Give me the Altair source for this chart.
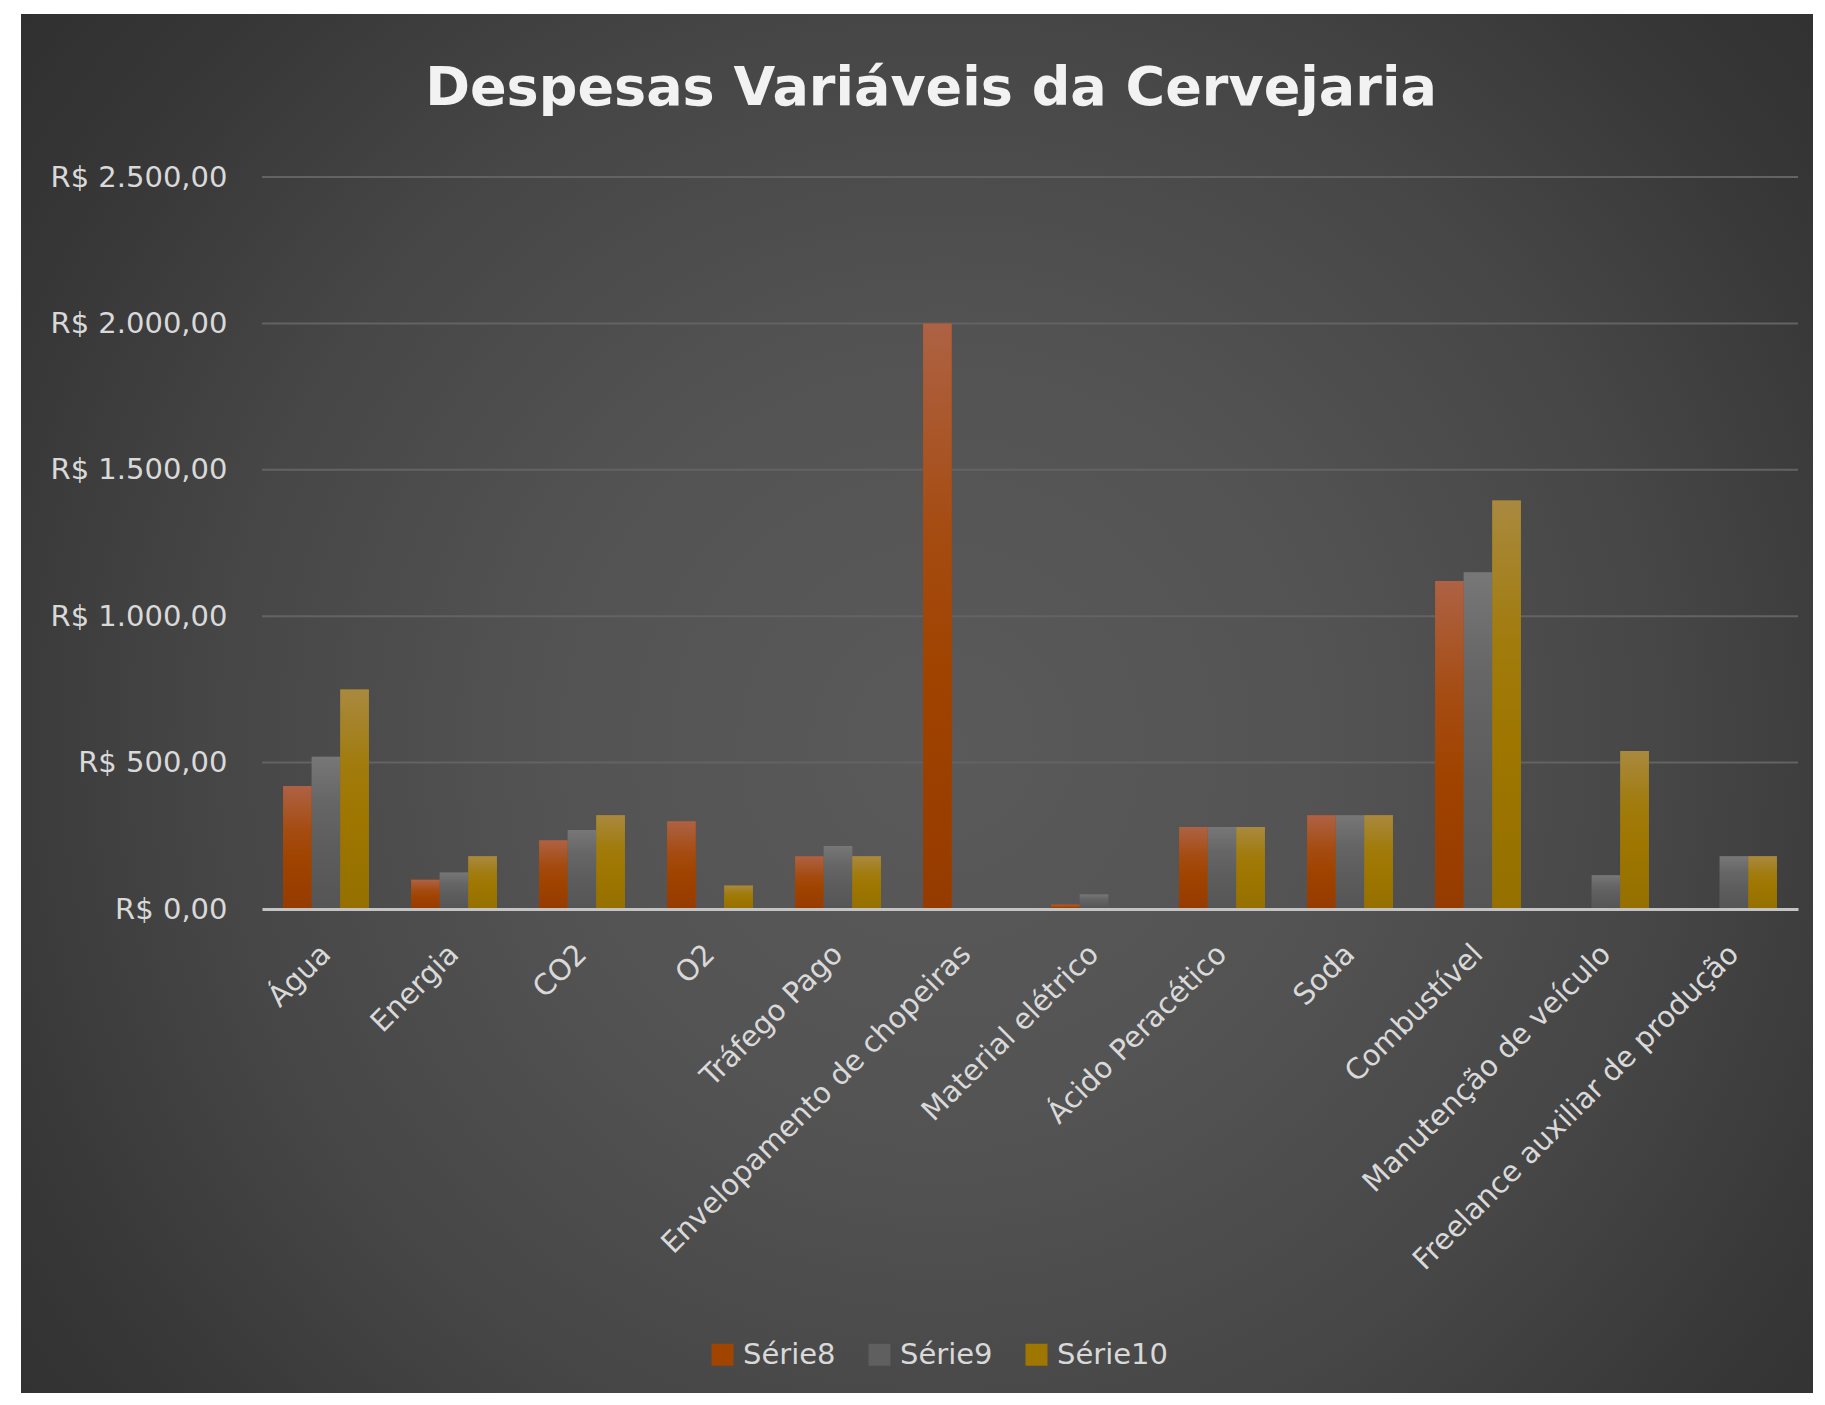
import altair as alt
import pandas as pd

categorias = ["Água", "Energia", "CO2", "O2", "Tráfego Pago",
              "Envelopamento de chopeiras", "Material elétrico",
              "Ácido Peracético", "Soda", "Combustível",
              "Manutenção de veículo", "Freelance auxiliar de produção"]
series = ["Série8", "Série9", "Série10"]
serie8 = [420, 100, 235, 300, 180, 2000, 15, 280, 320, 1120, 0, 0]
serie9 = [520, 125, 270, 0, 215, 0, 50, 280, 320, 1150, 115, 180]
serie10 = [750, 180, 320, 80, 180, 0, 0, 280, 320, 1395, 540, 180]
y_ticks = [500, 1000, 1500, 2000, 2500]

cores = ["#a14400", "#5f5f5f", "#9e7600"]
gradientes = [
    [("#ae6244", 0.0), ("#a54c12", 0.35), ("#a04300", 0.6), ("#963b00", 1.0)],
    [("#777777", 0.0), ("#666666", 0.3), ("#5d5d5d", 0.6), ("#555555", 1.0)],
    [("#a9893f", 0.0), ("#a17b0c", 0.35), ("#9e7600", 0.6), ("#957000", 1.0)],
]

rows = []
for s, vals in zip(series, [serie8, serie9, serie10]):
    for c, v in zip(categorias, vals):
        rows.append({"categoria": c, "serie": s, "valor": v})
df = pd.DataFrame(rows)

W, H = 1536, 732
FONT = "DejaVu Sans"
LBL = "#d9d9d9"
FS = 29

x_axis = alt.Axis(labelAngle=-45, labelAlign="right", labelBaseline="middle",
                  labelFont=FONT, labelFontSize=FS, labelColor=LBL,
                  labelPadding=40, ticks=False, domainColor="#c4c4c4",
                  domainWidth=3, grid=False, labelLimit=700, zindex=1)
y_axis = alt.Axis(values=[0] + y_ticks, grid=False, domain=False, ticks=False,
                  labelFont=FONT, labelFontSize=FS, labelColor=LBL,
                  labelPadding=35, zindex=1,
                  labelExpr="'R$ ' + (datum.value >= 1000 ? format(floor(datum.value/1000), 'd') + '.' + format(datum.value % 1000, '03d') : format(datum.value, 'd')) + ',00'")
y_scale = alt.Scale(domain=[0, 2500], nice=False)

x_enc = alt.X("categoria:N", sort=categorias, title=None,
              scale=alt.Scale(paddingInner=0.33, paddingOuter=0.165), axis=x_axis)
xo_enc = alt.XOffset("serie:N", sort=series,
                     scale=alt.Scale(domain=series, paddingInner=0, paddingOuter=0))
y_enc = alt.Y("valor:Q", title=None, scale=y_scale, axis=y_axis)

# background with radial gradient
fundo = alt.Chart(pd.DataFrame({"a": [0]})).mark_rect(
    fill={"gradient": "radial", "x1": 0.5, "y1": 0.5, "r1": 0, "x2": 0.5, "y2": 0.5, "r2": 0.72,
          "stops": [{"offset": 0, "color": "#5a5a5a"}, {"offset": 0.3, "color": "#535353"},
                    {"offset": 0.55, "color": "#464646"}, {"offset": 0.75, "color": "#373737"},
                    {"offset": 1, "color": "#2a2a2a"}]}
).encode(x=alt.value(-241), x2=alt.value(1600), y=alt.value(-163), y2=alt.value(1300))

grade = alt.Chart(pd.DataFrame({"valor": y_ticks})).mark_rule(color="#636363", strokeWidth=2).encode(
    y=y_enc, x=alt.value(0), x2=alt.value(W))

base = alt.Chart(df).mark_bar().encode(
    x=x_enc, xOffset=xo_enc, y=y_enc,
    color=alt.Color("serie:N", sort=series,
                    scale=alt.Scale(domain=series, range=cores),
                    legend=alt.Legend(title=None, orient="none", legendX=446, legendY=1163,
                                      direction="horizontal", symbolType="square",
                                      symbolSize=484, symbolStrokeWidth=0,
                                      labelFont=FONT, labelFontSize=FS, labelColor=LBL,
                                      labelOffset=6, columnPadding=29, padding=0)))

camadas = [fundo, grade, base]
for s, g in zip(series, gradientes):
    grad = {"gradient": "linear", "x1": 0, "y1": 0, "x2": 0, "y2": 1,
            "stops": [{"offset": o, "color": c} for c, o in g]}
    camadas.append(
        alt.Chart(df).mark_bar(fill=grad).encode(x=x_enc, xOffset=xo_enc, y=y_enc)
        .transform_filter(alt.datum.serie == s))

chart = alt.layer(*camadas).properties(
    width=W, height=H,
    autosize=alt.AutoSizeParams(type="none"),
    padding={"left": 254, "top": 169, "right": 15, "bottom": 484},
    title=alt.TitleParams("Despesas Variáveis da Cervejaria", font=FONT, fontSize=54,
                          fontWeight="bold", color="#f2f2f2", anchor="middle",
                          dx=-99, dy=158, offset=56),
).configure(background="white").configure_view(stroke=None)

chart.save("out.html", embed_options={"renderer": "svg", "actions": False})
